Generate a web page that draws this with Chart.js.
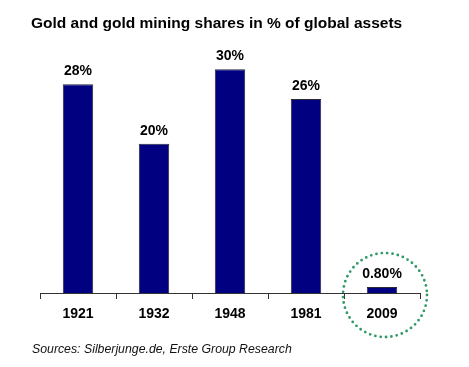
<!DOCTYPE html>
<html><head><meta charset="utf-8">
<script src="https://cdn.jsdelivr.net/npm/chart.js@4.4.1/dist/chart.umd.min.js"></script>
<style>html,body{margin:0;padding:0;background:#fff}#wrap{width:469px;height:367px}</style>
</head><body><div id="wrap"><canvas id="c" width="469" height="367"></canvas></div>
<script>
const categories = ['1921', '1932', '1948', '1981', '2009'];
const shares = [28, 20, 30, 26, 0.8];
const valueLabels = ['28%', '20%', '30%', '26%', '0.80%'];
const titleText = 'Gold and gold mining shares in % of global assets';
const sourceText = 'Sources: Silberjunge.de, Erste Group Research';

const FONT = '"Liberation Sans", Arial, Helvetica, sans-serif';

const overlay = {
  id: 'overlay',
  afterDatasetsDraw(chart) {
    const ctx = chart.ctx;
    const meta = chart.getDatasetMeta(0);
    ctx.save();
    ctx.fillStyle = '#000';
    ctx.font = 'bold 14px ' + FONT;
    ctx.textAlign = 'center';
    ctx.textBaseline = 'alphabetic';
    meta.data.forEach((bar, i) => {
      ctx.fillText(valueLabels[i], bar.x, bar.y - 9);
    });
    // title
    ctx.textAlign = 'left';
    ctx.font = 'bold 15.5px ' + FONT;
    ctx.fillText(titleText, 31, 28);
    // source
    ctx.font = 'italic 12.3px ' + FONT;
    ctx.fillStyle = '#111';
    ctx.fillText(sourceText, 32, 353);
    // dotted circle around last bar
    const xs = chart.scales.x, ys = chart.scales.y;
    const cx = xs.getPixelForValue(categories.length - 1) + 3;
    const cy = ys.getPixelForValue(0) + 2;
    ctx.beginPath();
    ctx.setLineDash([0, 5.4]);
    ctx.lineCap = 'round';
    ctx.lineWidth = 2.8;
    ctx.strokeStyle = '#2f9a66';
    ctx.arc(cx, cy, 42, 0, Math.PI * 2);
    ctx.stroke();
    ctx.restore();
  }
};

new Chart(document.getElementById('c'), {
  type: 'bar',
  data: {
    labels: categories,
    datasets: [{
      data: shares,
      backgroundColor: '#000080',
      borderColor: '#2a2a3a',
      borderWidth: 1,
      barPercentage: 0.4,
      categoryPercentage: 1.0
    }]
  },
  options: {
    responsive: false,
    animation: false,
    events: [],
    layout: { padding: { left: 40, right: 49, top: 32, bottom: 0 } },
    plugins: { legend: { display: false }, tooltip: { enabled: false }, title: { display: false } },
    scales: {
      x: {
        offset: true,
        grid: { display: true, drawOnChartArea: false, offset: true, tickLength: 6, color: '#333', lineWidth: 1 },
        border: { display: true, color: '#333', width: 1 },
        ticks: { color: '#000', font: { family: FONT, size: 14, weight: 'bold' }, padding: 7, maxRotation: 0 },
        afterFit(s) { s.height = 74; }
      },
      y: {
        display: false,
        min: 0,
        max: 35
      }
    }
  },
  plugins: [overlay]
});
</script></body></html>
